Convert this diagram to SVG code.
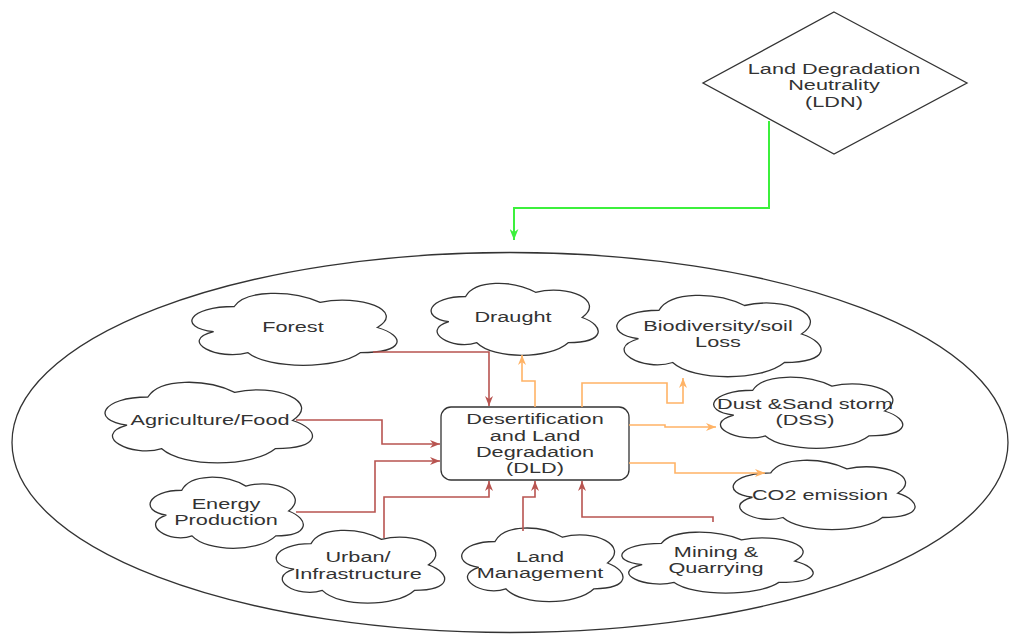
<svg xmlns="http://www.w3.org/2000/svg" xmlns:xlink="http://www.w3.org/1999/xlink" width="1010" height="635" viewBox="0 0 1010 635">
<style>
.shape{fill:#fff;stroke:#333;stroke-width:1.3}
.cloud{fill:#fff;stroke:#333;stroke-width:1.3;vector-effect:non-scaling-stroke}
.lbl{font-family:"Liberation Sans",Arial,sans-serif;font-size:15.5px;fill:#333;text-anchor:middle}
.red{fill:none;stroke:#B85450;stroke-width:1.6;marker-end:url(#arRed)}
.orange{fill:none;stroke:#FFB366;stroke-width:1.6;marker-end:url(#arOrange)}
.green{fill:none;stroke:#3CF03C;stroke-width:2;marker-end:url(#arGreen)}
</style>
<defs>
<path id="cloudPath" class="cloud" d="M25,25 C5,25 0,50 16,55 C0,66 18,90 31,80 C40,100 70,100 80,80 C100,80 100,60 87.5,50 C100,30 80,10 62.5,20 C50,5 30,5 25,25 Z"/>
<marker id="arRed" viewBox="0 0 10 8" markerWidth="10" markerHeight="8" refX="10" refY="4" orient="auto" markerUnits="userSpaceOnUse"><path d="M0,0 L10,4 L0,8 L3,4 Z" fill="#B85450"/></marker>
<marker id="arOrange" viewBox="0 0 10 8" markerWidth="10" markerHeight="8" refX="10" refY="4" orient="auto" markerUnits="userSpaceOnUse"><path d="M0,0 L10,4 L0,8 L3,4 Z" fill="#FFB366"/></marker>
<marker id="arGreen" viewBox="0 0 10 8" markerWidth="11" markerHeight="9" refX="10" refY="4" orient="auto" markerUnits="userSpaceOnUse"><path d="M0,0 L10,4 L0,8 L3,4 Z" fill="#3CF03C"/></marker>
</defs>
<rect width="1010" height="635" fill="#fff"/>

<g id="boundary"><ellipse class="shape" cx="510" cy="442.5" rx="498" ry="190"/></g>

<g id="ldn">
<polygon class="shape" points="834,12 967,83 834,154 703,83"/>
<text class="lbl" transform="translate(834,0) scale(1.4,1)"><tspan x="0" y="74">Land Degradation</tspan><tspan x="0" y="90.5">Neutrality</tspan><tspan x="0" y="107">(LDN)</tspan></text>
</g>

<g id="forest"><use xlink:href="#cloudPath" transform="translate(177,285.5) scale(2.29,0.84)"/>
<text class="lbl" transform="translate(293,332) scale(1.4,1)" x="0" y="0">Forest</text></g>

<g id="draught"><use xlink:href="#cloudPath" transform="translate(419,275.5) scale(1.865,0.84)"/>
<text class="lbl" transform="translate(513,322) scale(1.4,1)" x="0" y="0">Draught</text></g>

<g id="biodiversity"><use xlink:href="#cloudPath" transform="translate(602,286.5) scale(2.28,0.95)"/>
<text class="lbl" transform="translate(718,0) scale(1.4,1)"><tspan x="0" y="331">Biodiversity/soil</tspan><tspan x="0" y="347">Loss</tspan></text></g>

<g id="dss"><use xlink:href="#cloudPath" transform="translate(700,369.5) scale(2.11,0.83)"/>
<text class="lbl" transform="translate(805,0) scale(1.4,1)"><tspan x="0" y="409">Dust &amp;Sand storm</tspan><tspan x="0" y="425">(DSS)</tspan></text></g>

<g id="agriculture"><use xlink:href="#cloudPath" transform="translate(90,373.5) scale(2.315,0.94)"/>
<text class="lbl" transform="translate(210,425) scale(1.4,1)" x="0" y="0">Agriculture/Food</text></g>

<g id="co2"><use xlink:href="#cloudPath" transform="translate(720,452.7) scale(2.03,0.81)"/>
<text class="lbl" transform="translate(820,500) scale(1.4,1)" x="0" y="0">CO2 emission</text></g>

<g id="energy"><use xlink:href="#cloudPath" transform="translate(139,469.5) scale(1.71,0.83)"/>
<text class="lbl" transform="translate(226,0) scale(1.4,1)"><tspan x="0" y="509">Energy</tspan><tspan x="0" y="525">Production</tspan></text></g>

<g id="urban"><use xlink:href="#cloudPath" transform="translate(264,522.4) scale(1.88,0.85)"/>
<text class="lbl" transform="translate(358,0) scale(1.4,1)"><tspan x="0" y="562.5">Urban/</tspan><tspan x="0" y="579">Infrastructure</tspan></text></g>

<g id="land"><use xlink:href="#cloudPath" transform="translate(450,520) scale(1.8,0.86)"/>
<text class="lbl" transform="translate(540,0) scale(1.4,1)"><tspan x="0" y="562">Land</tspan><tspan x="0" y="578">Management</tspan></text></g>

<g id="mining"><use xlink:href="#cloudPath" transform="translate(608,525.6) scale(2.135,0.71)"/>
<text class="lbl" transform="translate(716,0) scale(1.4,1)"><tspan x="0" y="557">Mining &amp;</tspan><tspan x="0" y="573">Quarrying</tspan></text></g>

<g id="dld">
<rect class="shape" x="441" y="407" width="188" height="73" rx="10" ry="10"/>
<text class="lbl" transform="translate(535,0) scale(1.4,1)"><tspan x="0" y="424">Desertification</tspan><tspan x="0" y="441">and Land</tspan><tspan x="0" y="457">Degradation</tspan><tspan x="0" y="473">(DLD)</tspan></text>
</g>

<g id="connectors">
<path class="green" d="M769,121 V208 H514 V240"/>
<path class="red" d="M373,352 H489 V406"/>
<path class="red" d="M296,420 H382 V444 H440"/>
<path class="red" d="M296,512 H375 V461 H440"/>
<path class="red" d="M384,538 V497 H489 V481"/>
<path class="red" d="M523,531 V497 H535 V481"/>
<path class="red" d="M713,522 V517 H582 V481"/>
<path class="orange" d="M535,407 V381 H522 V355"/>
<path class="orange" d="M582,407 V383 H667 V403 H683 V378"/>
<path class="orange" d="M629,425 H665 V427 H716"/>
<path class="orange" d="M629,463 H675 V473 H765"/>
</g>
</svg>
